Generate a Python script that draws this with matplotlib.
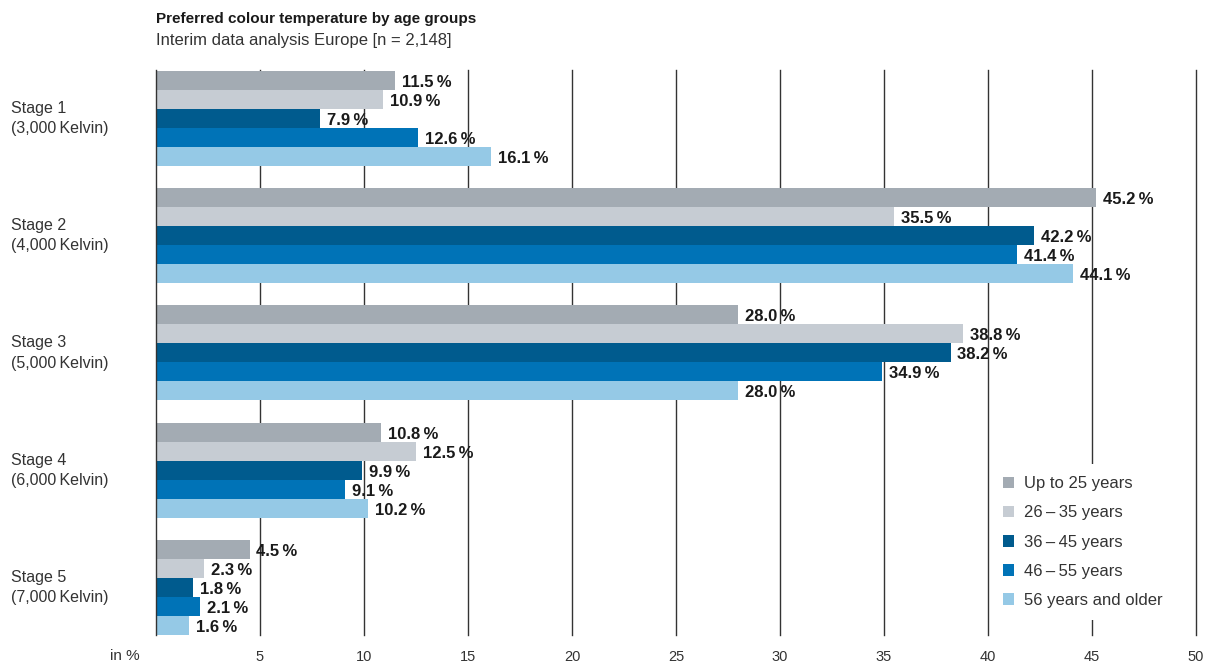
import numpy as np
import matplotlib.pyplot as plt

# data
stages = ['Stage 1\n(3,000\u2009Kelvin)', 'Stage 2\n(4,000\u2009Kelvin)', 'Stage 3\n(5,000\u2009Kelvin)',
          'Stage 4\n(6,000\u2009Kelvin)', 'Stage 5\n(7,000\u2009Kelvin)']
groups = ['Up to 25 years', '26\u2009\u2013\u200935 years', '36\u2009\u2013\u200945 years',
          '46\u2009\u2013\u200955 years', '56 years and older']
up_to_25 = [11.5, 45.2, 28.0, 10.8, 4.5]
age_26_35 = [10.9, 35.5, 38.8, 12.5, 2.3]
age_36_45 = [7.9, 42.2, 38.2, 9.9, 1.8]
age_46_55 = [12.6, 41.4, 34.9, 9.1, 2.1]
age_56_up = [16.1, 44.1, 28.0, 10.2, 1.6]
ticks = [5, 10, 15, 20, 25, 30, 35, 40, 45, 50]

series = [up_to_25, age_26_35, age_36_45, age_46_55, age_56_up]
colors = ['#a3abb3', '#c6ccd3', '#005b8e', '#0073b7', '#95c9e6']

plt.rcParams['font.family'] = ['Liberation Sans', 'DejaVu Sans']

fig = plt.figure(figsize=(12.17, 6.64), dpi=100)
ax = fig.add_axes([156 / 1217, 1 - 635 / 664, 1040 / 1217, 565 / 664])

pitch = 117.3 / 19
centers = np.arange(len(stages)) * pitch

for j, (vals, col, name) in enumerate(zip(series, colors, groups)):
    y = centers + j
    ax.barh(y, vals, height=1.0, color=col, label=name, zorder=2)
    for yy, v in zip(y, vals):
        ax.text(v + 0.33, yy + 0.1, f'{v:.1f}\u2009%', va='center', ha='left',
                fontsize=12, fontweight='bold', color='#1a1a1a', zorder=4)

# gridlines
for t in ticks:
    ax.axvline(t, color='#333333', lw=1.0, zorder=1, clip_on=False)
ax.axvline(0, color='#333333', lw=1.0, zorder=3, clip_on=False)

ax.set_xlim(0, 50)
ax.set_ylim(4 * pitch + 4.5, -0.55)
ax.set_xticks(ticks)
ax.set_xticklabels([str(t) for t in ticks], fontsize=10.5, color='#333333')
ax.tick_params(axis='x', length=0, pad=11)
ax.set_yticks([])
for s in ax.spines.values():
    s.set_visible(False)

# stage labels
for c, s in zip(centers, stages):
    ax.text(-6.95, c + 2, s, ha='left', va='center', fontsize=11.5,
            color='#333333', linespacing=1.45)

fig.text(125 / 1217, 1 - 656 / 664, 'in %', ha='center', va='center', fontsize=11, color='#333333')

fig.text(156 / 1217, 1 - 19 / 664, 'Preferred colour temperature by age groups',
         ha='left', va='center', fontsize=11, fontweight='bold', color='#1a1a1a')
fig.text(156 / 1217, 1 - 40 / 664, 'Interim data analysis Europe [n = 2,148]',
         ha='left', va='center', fontsize=12, color='#333333')

leg = ax.legend(loc='lower left', bbox_to_anchor=(0.794, 0.011), frameon=True,
                fontsize=12, handlelength=0.7, handleheight=0.7, handletextpad=0.6,
                labelspacing=0.85, borderpad=0.75, labelcolor='#333333')
leg.get_frame().set_facecolor('white')
leg.get_frame().set_edgecolor('none')
leg.get_frame().set_alpha(1)
leg.set_zorder(5)

fig.savefig('out.png', dpi=100)
